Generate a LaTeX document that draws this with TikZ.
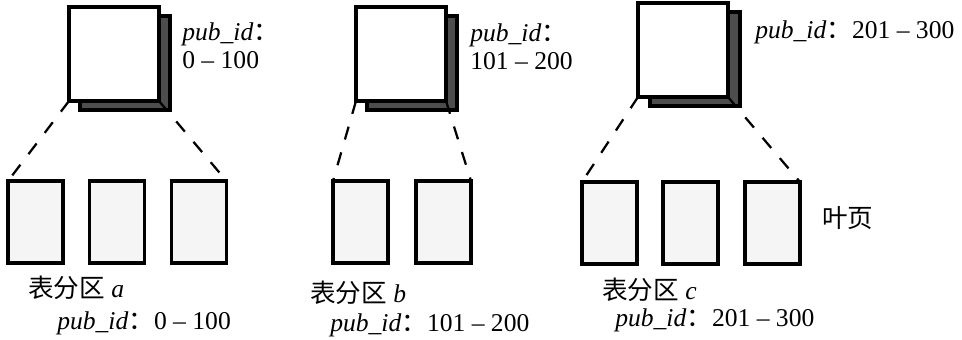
\documentclass[tikz,border=0pt]{standalone}
\usepackage{fontspec}
\setmainfont{Liberation Serif}
\newfontfamily\cjk{Noto Sans CJK SC}
\definecolor{pgshadow}{RGB}{77,77,77}
\definecolor{pgleaf}{RGB}{245,245,245}
\newcommand{\pubid}{\textit{pub\_id}{\cjk ：}}
\tikzset{
  rootpg/.style={draw, line width=2.2pt, fill=white, minimum width=2.25cm, minimum height=2.35cm, inner sep=0pt, outer sep=0pt},
  rootsh/.style={rootpg, fill=pgshadow},
  leafpg/.style={draw, line width=2.2pt, fill=pgleaf, minimum width=1.375cm, minimum height=2.05cm, inner sep=0pt, outer sep=0pt},
  link/.style={line width=1.6pt, dash pattern=on 9.5pt off 9.5pt},
  lbl/.style={font=\fontsize{18.2}{20}\selectfont, anchor=west, inner sep=0pt, align=left}
}

\begin{document}
\begin{tikzpicture}[x=0.025cm, y=-0.025cm]
    \useasboundingbox (0,0) rectangle (962,340);
    % partition a
    \node[rootsh] (ash) at (125,63) {};
    \node[rootpg] (aroot) at (114,54) {};
    \node[leafpg] (a1) at (35.5,222) {};
    \node[leafpg] (a2) at (117,222) {};
    \node[leafpg] (a3) at (199,222) {};
    \draw[link] (aroot.south west) -- (a1.north west);
    \draw[link] (aroot.south east) -- (a3.north east);
    \node[lbl] (arange) at (182,46) {\pubid\\0 -- 100};
    \node[lbl] (aname) at (28,288) {{\cjk 表分区} \textit{a}};
    \node[lbl] (akey) at (57,323) {\pubid 0 -- 100};
    % partition b
    \node[rootsh] (bsh) at (412,63) {};
    \node[rootpg] (broot) at (401,54) {};
    \node[leafpg] (b1) at (360.5,222) {};
    \node[leafpg] (b2) at (443.5,222) {};
    \draw[link] (broot.south west) -- (b1.north west);
    \draw[link] (broot.south east) -- (b2.north east);
    \node[lbl] (brange) at (470,47) {\pubid\\101 -- 200};
    \node[lbl] (bname) at (310,293) {{\cjk 表分区} \textit{b}};
    \node[lbl] (bkey) at (330,325) {\pubid 101 -- 200};
    % partition c
    \node[rootsh] (csh) at (695,59) {};
    \node[rootpg] (croot) at (683,50) {};
    \node[leafpg] (c1) at (609.5,223) {};
    \node[leafpg] (c2) at (690.5,223) {};
    \node[leafpg] (c3) at (772.5,223) {};
    \draw[link] (croot.south west) -- (c1.north west);
    \draw[link] (croot.south east) -- (c3.north east);
    \node[lbl] (crange) at (755,32) {\pubid 201 -- 300};
    \node[lbl] (cname) at (602,290) {{\cjk 表分区} \textit{c}};
    \node[lbl] (ckey) at (615,320) {\pubid 201 -- 300};
    % leaf level
    \node[lbl] (leaf) at (822,218) {\cjk 叶页};
\end{tikzpicture}
\end{document}
